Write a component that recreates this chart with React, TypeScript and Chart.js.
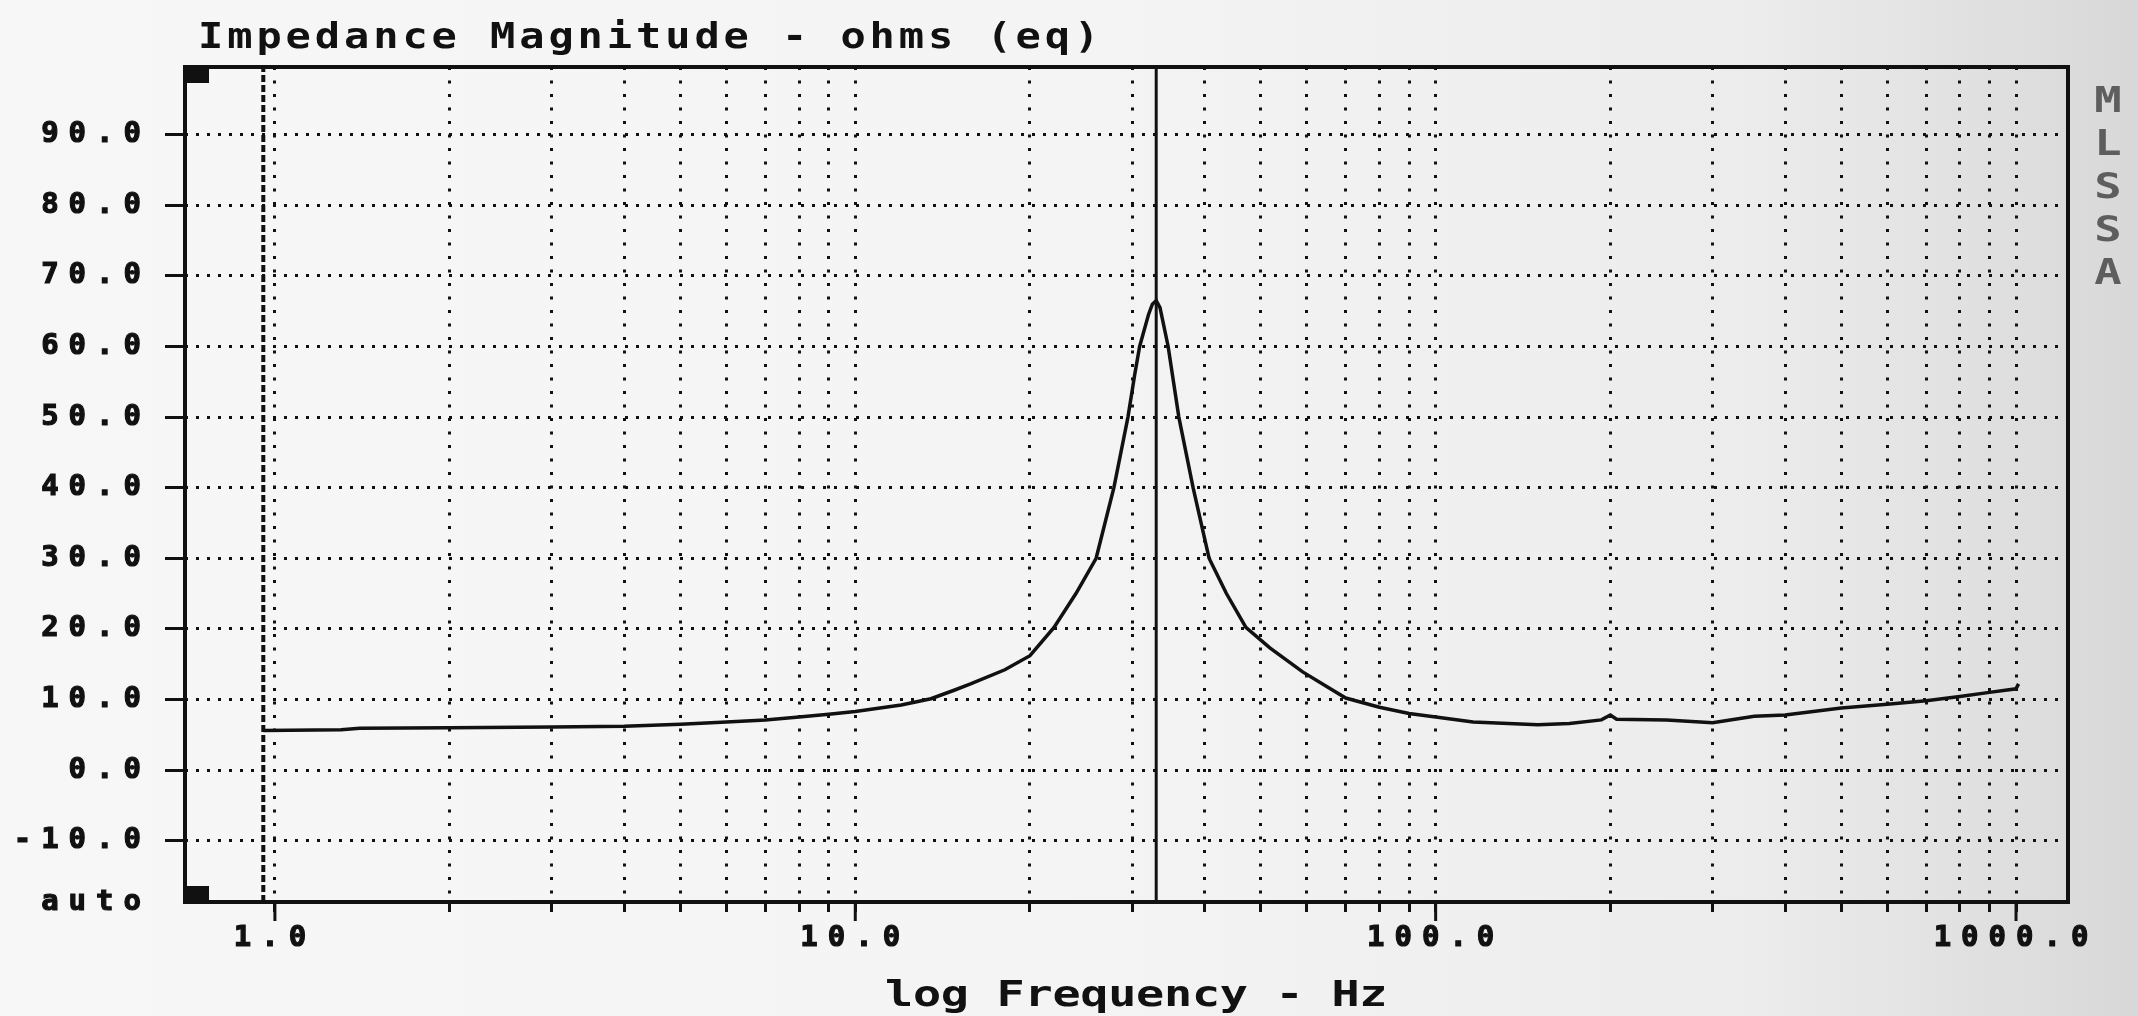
import React, { useEffect, useRef } from "react";
import { Chart, registerables } from "chart.js";

Chart.register(...registerables);

// ---- data ----
const FREQ_HZ = [
  0.955, 1.3, 1.4, 2, 3, 4, 5, 6, 7, 8,
  9, 10, 12, 13.5, 14.8, 15.8, 18.1, 20, 22, 24,
  26, 27.9, 29.5, 30.3, 30.9, 32, 32.5, 33, 33.5, 34,
  34.6, 36.1, 38.2, 40.7, 43.6, 47.1, 51.8, 59, 65, 70,
  80, 90, 100, 116, 150, 170, 193, 200, 205, 250,
  300, 354, 400, 500, 600, 700, 800, 900, 1000, 1010,
];
const IMPEDANCE_OHMS = [
  5.6, 5.7, 5.9, 6.0, 6.1, 6.2, 6.5, 6.8, 7.1, 7.5,
  7.9, 8.3, 9.2, 10.1, 11.3, 12.2, 14.2, 16.2, 20.2, 25,
  30, 40, 50, 56, 60, 64.5, 66, 66.5, 65.5, 63,
  60, 50, 40, 30, 25, 20.2, 17.3, 13.9, 11.8, 10.2,
  8.9, 8.0, 7.5, 6.8, 6.4, 6.6, 7.1, 7.8, 7.2, 7.1,
  6.7, 7.6, 7.8, 8.8, 9.3, 9.8, 10.4, 11.0, 11.5, 12.2,
];
const CURSOR_SOLID_HZ = 33;
const CURSOR_DASHED_HZ = 0.955;

const X_MIN = 0.7474;
const X_MAX = 1229;
const Y_MIN = -18.7;
const Y_MAX = 99.6;

const X_GRID_TICKS = [
  1, 2, 3, 4, 5, 6, 7, 8, 9,
  10, 20, 30, 40, 50, 60, 70, 80, 90,
  100, 200, 300, 400, 500, 600, 700, 800, 900,
  1000,
];
const X_LABELED_TICKS = [1, 10, 100, 1000];
const Y_TICKS = [-10, 0, 10, 20, 30, 40, 50, 60, 70, 80, 90];

const TITLE = "Impedance Magnitude - ohms (eq)";
const X_TITLE = "log Frequency - Hz";
const SIDE_LETTERS = ["M", "L", "S", "S", "A"];
const AUTO_LABEL = "auto";

// ---- styling ----
const INK = "#111111";
const MONO = "'DejaVu Sans Mono', 'Liberation Mono', monospace";
const TICK_LETTER_SPACING = 10;

function drawWide(
  ctx: CanvasRenderingContext2D,
  text: string,
  x: number,
  y: number,
  size: number,
  weight: string,
  advance: number,
  stretch: number,
  color: string,
  align: "left" | "center" = "left"
) {
  ctx.save();
  ctx.letterSpacing = "0px";
  ctx.font = `${weight} ${size}px ${MONO}`;
  const nat = ctx.measureText("M").width;
  const ls = advance / stretch - nat;
  let startX = x;
  if (align === "center") {
    const total = advance * text.length - ls * stretch;
    startX = x - total / 2;
  }
  ctx.translate(startX, y);
  ctx.scale(stretch, 1);
  ctx.letterSpacing = `${ls}px`;
  ctx.textAlign = "left";
  ctx.textBaseline = "alphabetic";
  ctx.fillStyle = color;
  ctx.fillText(text, 0, 0);
  ctx.restore();
}

const decorPlugin = {
  id: "mlssaDecor",
  beforeDraw(chart: any) {
    const ctx: CanvasRenderingContext2D = chart.ctx;
    const { width, height } = chart;
    ctx.save();
    const g = ctx.createLinearGradient(0, 0, width, 0);
    g.addColorStop(0, "#f7f7f7");
    g.addColorStop(0.5, "#f4f4f4");
    g.addColorStop(0.82, "#ececec");
    g.addColorStop(1, "#d8d8d8");
    ctx.fillStyle = g;
    ctx.fillRect(0, 0, width, height);
    ctx.restore();
    ctx.letterSpacing = `${TICK_LETTER_SPACING}px`;
  },
  afterDraw(chart: any) {
    const ctx: CanvasRenderingContext2D = chart.ctx;
    ctx.letterSpacing = "0px";
    const { left, right, top, bottom } = chart.chartArea;
    const xs = chart.scales.x;

    ctx.save();
    // frame
    ctx.strokeStyle = INK;
    ctx.lineWidth = 4;
    ctx.strokeRect(left, top, right - left, bottom - top);
    // corner blocks
    ctx.fillStyle = INK;
    ctx.fillRect(left, top, 24, 16);
    ctx.fillRect(left, bottom - 16, 24, 16);
    // longer decade ticks
    ctx.lineWidth = 3;
    for (const v of X_LABELED_TICKS) {
      const px = xs.getPixelForValue(v);
      ctx.beginPath();
      ctx.moveTo(px, bottom);
      ctx.lineTo(px, bottom + 19);
      ctx.stroke();
    }
    ctx.restore();

    // texts
    drawWide(ctx, TITLE, 198, 48, 35, "bold", 29.2, 1.2, INK);
    drawWide(ctx, X_TITLE, 885, 1006, 36, "bold", 27.9, 1.3, INK);
    SIDE_LETTERS.forEach((ch, i) => {
      drawWide(ctx, ch, 2108, 112 + i * 43, 35, "bold", 27, 1.3, "#5e5e5e", "center");
    });
  },
};

export default function App() {
  const canvasRef = useRef<HTMLCanvasElement | null>(null);

  useEffect(() => {
    const canvas = canvasRef.current;
    if (!canvas) return;

    const curve = FREQ_HZ.map((f, i) => ({ x: f, y: IMPEDANCE_OHMS[i] }));
    const solidCursor = [
      { x: CURSOR_SOLID_HZ, y: Y_MIN },
      { x: CURSOR_SOLID_HZ, y: Y_MAX },
    ];
    const dashedCursor = [
      { x: CURSOR_DASHED_HZ, y: Y_MIN },
      { x: CURSOR_DASHED_HZ, y: Y_MAX },
    ];

    const tickFont = { family: MONO, size: 29, weight: "bold" as const };

    const chart = new Chart(canvas, {
      type: "line",
      data: {
        datasets: [
          {
            label: "Impedance Magnitude",
            data: curve,
            borderColor: INK,
            borderWidth: 3.5,
            pointRadius: 0,
            tension: 0,
            fill: false,
          },
          {
            label: "cursor",
            data: solidCursor,
            borderColor: INK,
            borderWidth: 3,
            pointRadius: 0,
            fill: false,
          },
          {
            label: "cursor 2",
            data: dashedCursor,
            borderColor: INK,
            borderWidth: 4,
            borderDash: [7, 3],
            pointRadius: 0,
            fill: false,
          },
        ],
      },
      options: {
        animation: false,
        responsive: false,
        devicePixelRatio: 1,
        events: [],
        layout: { padding: { top: 67, right: 70, bottom: 0, left: 0 } },
        plugins: {
          legend: { display: false },
          title: { display: false },
          tooltip: { enabled: false },
        },
        scales: {
          x: {
            type: "logarithmic",
            min: X_MIN,
            max: X_MAX,
            afterBuildTicks: (s: any) => {
              s.ticks = X_GRID_TICKS.map((v) => ({ value: v }));
            },
            afterFit: (s: any) => {
              s.height = 114;
            },
            ticks: {
              autoSkip: false,
              maxRotation: 0,
              minRotation: 0,
              padding: 9,
              color: INK,
              textStrokeColor: INK,
              textStrokeWidth: 1.2,
              font: tickFont,
              callback: (v: any) =>
                X_LABELED_TICKS.includes(Number(v)) ? Number(v).toFixed(1) : "",
            },
            grid: {
              color: INK,
              lineWidth: 3,
              tickLength: 10,
              tickWidth: 3,
              tickColor: INK,
            },
            border: { display: false, dash: [3, 10.5] },
          },
          y: {
            type: "linear",
            min: Y_MIN,
            max: Y_MAX,
            afterBuildTicks: (s: any) => {
              s.ticks = [Y_MIN, ...Y_TICKS].map((v) => ({ value: v }));
            },
            afterFit: (s: any) => {
              s.width = 185;
            },
            ticks: {
              autoSkip: false,
              padding: 14,
              color: INK,
              textStrokeColor: INK,
              textStrokeWidth: 1.2,
              font: tickFont,
              callback: (v: any) =>
                Number(v) === Y_MIN ? AUTO_LABEL : Number(v).toFixed(1),
            },
            grid: {
              color: (c: any) =>
                c.tick && c.tick.value === Y_MIN ? "rgba(0,0,0,0)" : INK,
              lineWidth: 3,
              tickLength: 20,
              tickWidth: 3,
              tickColor: (c: any) =>
                c.tick && c.tick.value === Y_MIN ? "rgba(0,0,0,0)" : INK,
            },
            border: { display: false, dash: [3, 8] },
          },
        },
      },
      plugins: [decorPlugin],
    } as any);

    return () => chart.destroy();
  }, []);

  return (
    <div
      style={{
        position: "fixed",
        left: 0,
        top: 0,
        width: 2138,
        height: 1016,
      }}
    >
      <canvas
        ref={canvasRef}
        width={2138}
        height={1016}
        style={{ display: "block", width: 2138, height: 1016 }}
      />
    </div>
  );
}
